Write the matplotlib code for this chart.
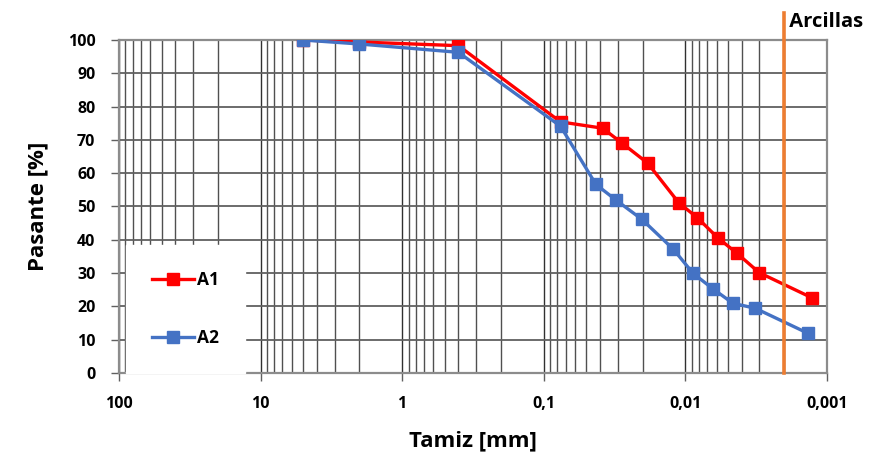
import matplotlib
matplotlib.use("Agg")
import matplotlib.pyplot as plt
from matplotlib.ticker import FixedLocator, LogLocator, NullFormatter

# ---- data ----
a1_size = [5.0, 2.0, 0.4, 0.076, 0.0383, 0.0279, 0.0184, 0.0111, 0.0082, 0.0059, 0.0043, 0.0030, 0.00128]
a1_pass = [100.0, 99.4, 98.3, 75.4, 73.5, 69.0, 63.0, 51.1, 46.6, 40.6, 35.9, 30.1, 22.6]
a2_size = [5.0, 2.0, 0.4, 0.076, 0.0427, 0.0308, 0.0202, 0.0121, 0.0088, 0.0064, 0.0046, 0.0032, 0.00136]
a2_pass = [100.0, 98.8, 96.3, 74.1, 56.6, 51.9, 46.1, 37.1, 29.9, 25.3, 20.9, 19.4, 11.9]
clay_limit = 0.002
x_ticks = [100, 10, 1, 0.1, 0.01, 0.001]
x_ticklabels = ["100", "10", "1", "0,1", "0,01", "0,001"]
y_ticks = list(range(0, 101, 10))

plt.rcParams['font.family'] = ['Open Sans', 'DejaVu Sans']
plt.rcParams['font.weight'] = 'bold'

fig = plt.figure(figsize=(8.73, 4.62), dpi=100)
ax = fig.add_axes([0.1363, 0.193, 0.947 - 0.1363, 0.9134 - 0.193])

ax.set_xscale('log')
ax.set_xlim(100, 0.001)
ax.set_ylim(0, 100)

ax.xaxis.set_major_locator(FixedLocator(x_ticks))
ax.set_xticklabels(x_ticklabels)
ax.xaxis.set_minor_locator(LogLocator(base=10, subs=range(2, 10), numticks=20))
ax.xaxis.set_minor_formatter(NullFormatter())
ax.set_yticks(y_ticks)

ax.grid(which='major', axis='x', color='#303030', lw=1.0, zorder=0)
ax.grid(which='minor', axis='x', color='#505050', lw=1.0, zorder=0)
ax.grid(which='major', axis='y', color='#606060', lw=1.3, zorder=0)
ax.set_axisbelow(True)

for s in ax.spines.values():
    s.set_color('#8c8c8c')
    s.set_linewidth(1.6)

ax.tick_params(axis='x', which='major', direction='out', length=6, width=1, color='#606060', pad=11, labelsize=11.5)
ax.tick_params(axis='x', which='minor', length=0)
ax.tick_params(axis='y', which='major', direction='out', length=6, width=1, color='#606060', pad=11, labelsize=11.5)
for lab in ax.get_xticklabels() + ax.get_yticklabels():
    lab.set_fontweight('bold')

ax.plot(a1_size, a1_pass, color='#FF0000', lw=2.4, marker='s', markersize=8.5, label='A1', zorder=3)
ax.plot(a2_size, a2_pass, color='#4472C4', lw=2.4, marker='s', markersize=8.5, label='A2', zorder=4)

ax.axvline(clay_limit, ymin=0, ymax=1.08, color='#ED7D31', lw=2.6, clip_on=False, zorder=5)
ax.text(clay_limit, 105.5, " Arcillas", fontsize=14.5, fontweight='bold', ha='left', va='center', transform=ax.transData, clip_on=False)

leg = ax.legend(loc='lower left', bbox_to_anchor=(0.01, 0.0), frameon=True, fancybox=False,
                edgecolor='white', facecolor='white', framealpha=1.0,
                fontsize=12.5, labelspacing=2.3, handlelength=2.4, borderpad=1.5, borderaxespad=0.0,
                handletextpad=0.2)
for t in leg.get_texts():
    t.set_fontweight('bold')
leg.set_zorder(6)

ax.set_xlabel("Tamiz [mm]", fontsize=16, fontweight='bold', labelpad=13)
ax.set_ylabel("Pasante [%]", fontsize=16, fontweight='bold', labelpad=14)

fig.savefig("out.png", dpi=100)
